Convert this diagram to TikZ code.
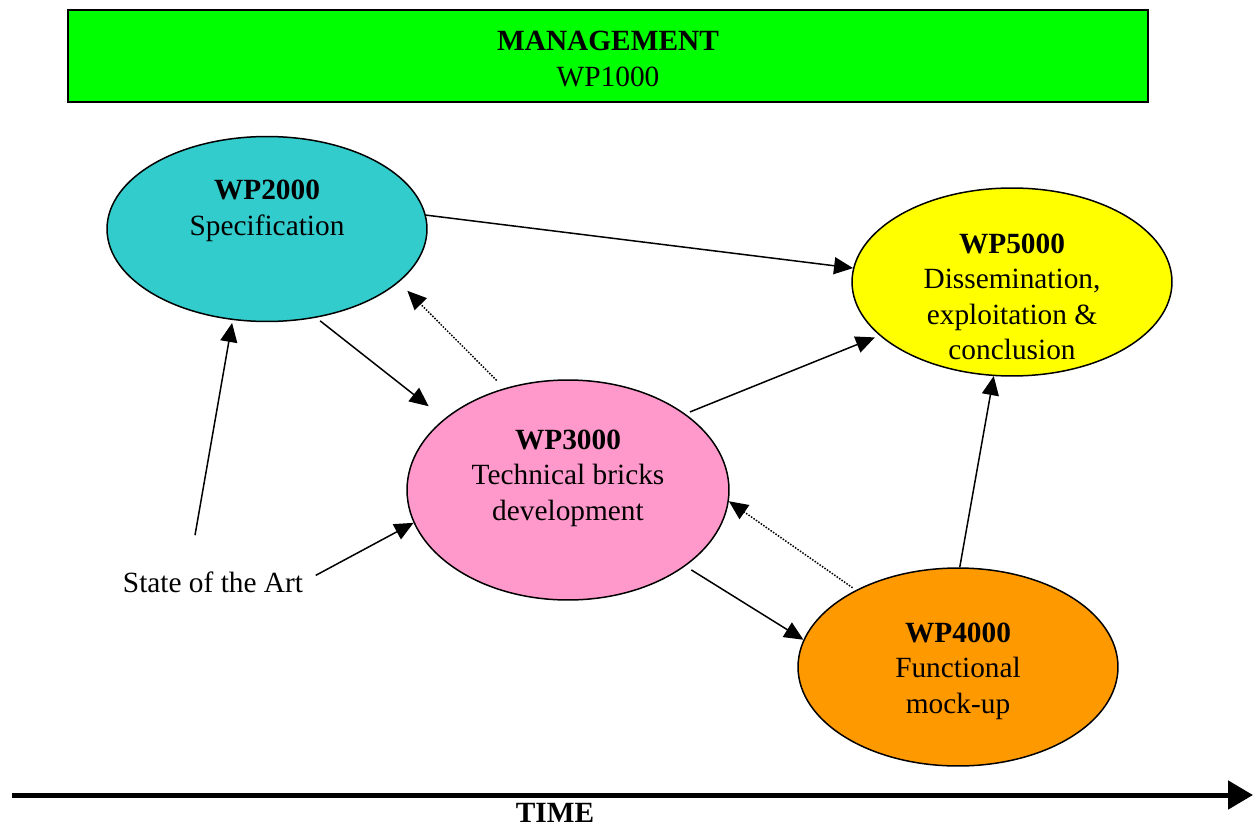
\documentclass[tikz,border=0pt]{standalone}
\usepackage{fontspec}
\setmainfont{Liberation Serif}
\usetikzlibrary{arrows.meta,shapes.geometric}

\definecolor{mgmtgreen}{RGB}{0,255,0}
\definecolor{speccyan}{RGB}{51,204,204}
\definecolor{brickpink}{RGB}{255,153,204}
\definecolor{mockorange}{RGB}{255,153,0}
\definecolor{dissyellow}{RGB}{255,255,0}

\tikzset{
  wpfont/.style={font=\fontsize{16.7}{20.2}\selectfont},
  wpellipse/.style={ellipse, draw=black, line width=0.03cm, inner sep=0pt},
  wptext/.style={wpfont, align=center, inner sep=0pt},
  arr/.style={line width=0.03cm, -{Triangle[length=0.38cm, width=0.34cm]}},
  dotarr/.style={arr, dash pattern=on 0.85pt off 0.85pt},
}

\begin{document}
\begin{tikzpicture}
    [x=0.02cm, y=-0.02cm]

    \useasboundingbox (0, 0) rectangle (1253, 827);

    % management bar
    \node [draw=black, line width=0.04cm, fill=mgmtgreen, minimum width=21.6cm,
           minimum height=1.84cm, wptext] at (608, 56) (wp1) {};
    \node [wptext] at (608, 59) (wp1t) {\textbf{MANAGEMENT}\\WP1000};

    % work packages
    \node [wpellipse, fill=speccyan, minimum width=6.4cm, minimum height=3.7cm]
          at (267, 229) (wp2) {};
    \node [wptext] at (267, 211) (wp2t) {\textbf{WP2000}\\Specification};

    \node [wpellipse, fill=brickpink, minimum width=6.44cm, minimum height=4.4cm]
          at (568, 490) (wp3) {};
    \node [wptext] at (568, 478) (wp3t) {\textbf{WP3000}\\Technical bricks\\development};

    \node [wpellipse, fill=dissyellow, minimum width=6.4cm, minimum height=3.76cm]
          at (1012, 282) (wp5) {};
    \node [wptext] at (1012, 297) (wp5t)
          {\textbf{WP5000}\\Dissemination,\\exploitation \&\\conclusion};

    \node [wpellipse, fill=mockorange, minimum width=6.4cm, minimum height=3.96cm]
          at (958, 667) (wp4) {};
    \node [wptext] at (958, 671) (wp4t) {\textbf{WP4000}\\Functional\\mock-up};

    \node [wptext] at (213, 582) (soa) {State of the Art};

    % links
    \draw [arr] ([xshift=-0.36cm, yshift=0.72cm]soa.north) -- ([yshift=-0.06cm]wp2.-111);
    \draw [arr, shorten <=0.28cm] (soa.east) -- (wp3.-168);
    \draw [arr, shorten <=0.1cm, shorten >=0.4cm] (wp2.-61) -- (wp3.150);
    \draw [dotarr, shorten <=0.22cm, shorten >=0.24cm] (wp3.122) -- (wp2.-22);
    \draw [arr] (wp2.5) -- (wp5.175);
    \draw [arr, shorten <=0.1cm, shorten >=0.1cm] (wp3.33) -- (wp5.-158);
    \draw [arr, shorten <=0.14cm] (wp3.-33) -- (wp4.170);
    \draw [dotarr, shorten <=0.08cm] (wp4.143) -- (wp3.-4);
    \draw [arr] (wp4.89) -- (wp5.-101);

    % time axis
    \coordinate (t0) at (12, 795);
    \coordinate (t1) at (1253, 795);
    \draw [line width=0.1cm, -{Triangle[length=0.5cm, width=0.56cm]}] (t0) -- (t1);
    \node [font=\fontsize{16.7}{20.2}\selectfont\bfseries, inner sep=0pt]
          at (555, 813) (time) {TIME};

\end{tikzpicture}
\end{document}
